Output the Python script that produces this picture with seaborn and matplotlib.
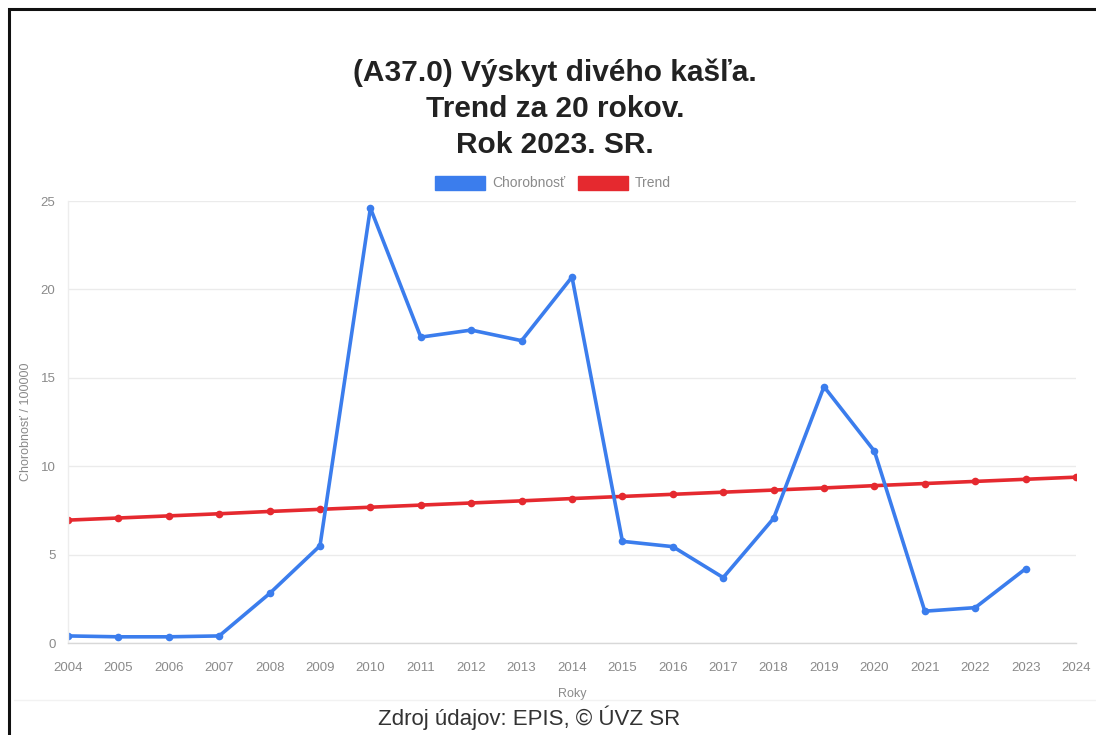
import matplotlib
matplotlib.use("Agg")
import matplotlib.pyplot as plt
import seaborn as sns
import pandas as pd
from matplotlib.patches import Rectangle, Patch

years = list(range(2004, 2024))
chorobnost = [0.4, 0.35, 0.35, 0.4, 2.8, 5.5, 24.6, 17.3, 17.7, 17.1,
              20.7, 5.75, 5.45, 3.7, 7.05, 14.5, 10.85, 1.8, 2.0, 4.2]
trend_years = list(range(2004, 2025))
trend = [6.95, 7.07, 7.19, 7.31, 7.44, 7.56, 7.68, 7.80, 7.92, 8.04,
         8.17, 8.29, 8.41, 8.53, 8.65, 8.77, 8.90, 9.02, 9.14, 9.26, 9.38]
series_names = ["Chorobnosť", "Trend"]
colors = ["#3b7ded", "#e5292f"]
title_lines = ["(A37.0) Výskyt divého kašľa.", "Trend za 20 rokov.", "Rok 2023. SR."]
y_ticks = [0, 5, 10, 15, 20, 25]

sns.set_theme(style="white")
plt.rcParams["font.family"] = ["Liberation Sans", "DejaVu Sans"]

df = pd.concat([
    pd.DataFrame({"Rok": trend_years, "Hodnota": trend, "Séria": series_names[1]}),
    pd.DataFrame({"Rok": years, "Hodnota": chorobnost, "Séria": series_names[0]}),
])
palette = {series_names[0]: colors[0], series_names[1]: colors[1]}

W, H = 1096, 735
fig = plt.figure(figsize=(W / 100, H / 100), dpi=100)
ax = fig.add_axes([68 / W, 1 - 643 / H, (1076 - 68) / W, (643 - 201) / H])

sns.lineplot(data=df, x="Rok", y="Hodnota", hue="Séria", palette=palette,
             hue_order=[series_names[1], series_names[0]],
             marker="o", markersize=5.5, markeredgewidth=0, linewidth=2.6,
             ax=ax, legend=False)

ax.set_xlim(2004, 2024)
ax.set_ylim(0, 25)
ax.set_xticks(trend_years)
ax.set_xticklabels([str(y) for y in trend_years])
ax.set_yticks(y_ticks)
ax.tick_params(axis="both", labelsize=9.5, colors="#8a8a8a", length=0, pad=9)
ax.tick_params(axis="x", length=6, color="#e6e6e6", direction="out", pad=8)
ax.yaxis.grid(True, color="#ebebeb", linewidth=1)
ax.xaxis.grid(False)
for s in ["top", "right"]:
    ax.spines[s].set_visible(False)
ax.spines["left"].set_color("#ededed")
ax.spines["bottom"].set_color("#d8d8d8")
ax.spines["left"].set_linewidth(1)
ax.spines["bottom"].set_linewidth(1)
ax.set_xlabel("Roky", fontsize=9, color="#8a8a8a", labelpad=10)
ax.set_ylabel("Chorobnosť / 100000", fontsize=9, color="#8a8a8a", labelpad=6)

handles = [Patch(facecolor=colors[0], edgecolor=colors[0]),
           Patch(facecolor=colors[1], edgecolor=colors[1])]
fig.legend(handles, series_names, loc="center", bbox_to_anchor=(553 / W, 1 - 183 / H),
           ncol=2, frameon=False, fontsize=10, labelcolor="#8a8a8a",
           handlelength=3.6, handleheight=1.2, handletextpad=0.5, columnspacing=0.9)

for i, line in enumerate(title_lines):
    fig.text(555 / W, 1 - (73 + 36 * i) / H, line, ha="center", va="center",
             fontsize=21.5, fontweight="bold", color="#222222")

fig.text(529 / W, 1 - 718 / H, "Zdroj údajov: EPIS, © ÚVZ SR", ha="center", va="center",
         fontsize=16, color="#333333")

fig.add_artist(plt.Line2D([14 / W, 1], [1 - 700 / H, 1 - 700 / H], color="#f2f2f2",
                          linewidth=1, zorder=1))
fig.add_artist(Rectangle((9 / W, -0.05), 1.2, 1 - 9 / H + 0.05, transform=fig.transFigure,
                         fill=False, edgecolor="#111111", linewidth=2.2, zorder=10))

fig.savefig("out.png", dpi=100)
